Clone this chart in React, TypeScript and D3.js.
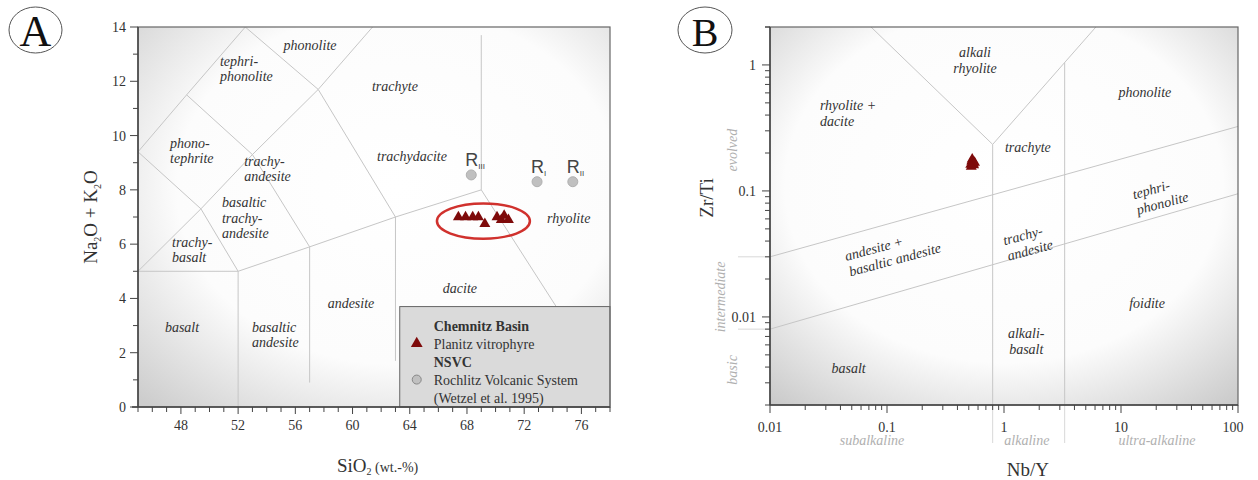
import React from "react";
import * as d3 from "d3";

// ---------- Panel A data (TAS) ----------
const tasBoundaries: [number, number][][] = [
  [[45, 9.4], [48.4, 11.5], [52.5, 14]],
  [[45, 9.4], [49.4, 7.3], [52, 5]],
  [[45, 5], [49.4, 7.3], [53, 9.3], [57.6, 11.7], [61.4, 14]],
  [[48.4, 11.5], [53, 9.3], [57, 5.9]],
  [[52.5, 14], [57.6, 11.7], [63, 7]],
  [[45, 5], [52, 5]],
  [[52, 0], [52, 5], [57, 5.9], [63, 7], [69, 8]],
  [[57, 0.9], [57, 5.9]],
  [[63, 1.7], [63, 7]],
  [[69, 8], [69, 13.7]],
  [[69, 8], [78.5, 0.2]],
];
const planitzSiO2 = [67.4, 67.9, 68.4, 68.8, 69.25, 70.1, 70.4, 70.6, 70.9];
const planitzAlk = [7.0, 7.0, 7.0, 7.0, 6.75, 7.0, 6.9, 7.05, 6.9];
const rochlitzNames = ["III", "I", "II"];
const rochlitzSiO2 = [68.3, 72.9, 75.4];
const rochlitzAlk = [8.55, 8.3, 8.3];
const xTicksA = [48, 52, 56, 60, 64, 68, 72, 76];
const yTicksA = [0, 2, 4, 6, 8, 10, 12, 14];
type Lab = { lines: string[]; x: number; y: number; anchor: string };
const tasLabels: Lab[] = [
  { lines: ["phonolite"], x: 57.03, y: 13.34, anchor: "middle" },
  { lines: ["tephri-", "phonolite"], x: 50.73, y: 12.75, anchor: "start" },
  { lines: ["phono-", "tephrite"], x: 47.24, y: 9.73, anchor: "start" },
  { lines: ["trachy-", "andesite"], x: 52.42, y: 9.08, anchor: "start" },
  { lines: ["basaltic", "trachy-", "andesite"], x: 50.87, y: 7.55, anchor: "start" },
  { lines: ["trachy-", "basalt"], x: 47.38, y: 6.08, anchor: "start" },
  { lines: ["trachyte"], x: 61.36, y: 11.83, anchor: "start" },
  { lines: ["trachydacite"], x: 61.71, y: 9.25, anchor: "start" },
  { lines: ["rhyolite"], x: 73.6, y: 6.96, anchor: "start" },
  { lines: ["dacite"], x: 67.51, y: 4.38, anchor: "middle" },
  { lines: ["andesite"], x: 59.89, y: 3.83, anchor: "middle" },
  { lines: ["basalt"], x: 48.08, y: 2.95, anchor: "middle" },
  { lines: ["basaltic", "andesite"], x: 52.97, y: 2.95, anchor: "start" },
];

// ---------- Panel B data (Nb/Y vs Zr/Ti) ----------
const pearceBoundaries: [number, number][][] = [
  [[0.073, 2], [0.8, 0.234], [6.1, 2]],
  [[0.8, 0.002], [0.8, 0.234]],
  [[3.3, 0.002], [3.3, 1.04]],
  [[0.01, 0.03], [100, 0.325]],
  [[0.01, 0.008], [100, 0.095]],
];
const planitzNbY = [0.53, 0.545, 0.52, 0.55, 0.535, 0.56, 0.525];
const planitzZrTi = [0.172, 0.165, 0.162, 0.16, 0.178, 0.168, 0.156];
const xTicksB = [0.01, 0.1, 1, 10, 100];
const xTickLabelsB = ["0.01", "0.1", "1", "10", "100"];
const yTicksB = [0.01, 0.1, 1];
const yTickLabelsB = ["0.01", "0.1", "1"];
const pearceLabels: Lab[] = [
  { lines: ["alkali", "rhyolite"], x: 0.565, y: 1.27, anchor: "middle" },
  { lines: ["rhyolite +", "dacite"], x: 0.0267, y: 0.48, anchor: "start" },
  { lines: ["phonolite"], x: 16.0, y: 0.61, anchor: "middle" },
  { lines: ["trachyte"], x: 1.6, y: 0.223, anchor: "middle" },
  { lines: ["foidite"], x: 16.7, y: 0.0129, anchor: "middle" },
  { lines: ["alkali-", "basalt"], x: 1.55, y: 0.0075, anchor: "middle" },
  { lines: ["basalt"], x: 0.047, y: 0.0039, anchor: "middle" },
];
const pearceRotLabels = [
  { lines: ["tephri-", "phonolite"], x: 12.9, y: 0.086 },
  { lines: ["trachy-", "andesite"], x: 1.01, y: 0.037 },
  { lines: ["andesite +", "basaltic andesite"], x: 0.0449, y: 0.0278 },
];
const sideLabels = [
  { text: "evolved", y: 0.211, dx: -38 },
  { text: "intermediate", y: 0.0144, dx: -50 },
  { text: "basic", y: 0.0038, dx: -38 },
];
const bottomLabels = [
  { text: "subalkaline", x: 0.0745 },
  { text: "alkaline", x: 1.57 },
  { text: "ultra-alkaline", x: 20.3 },
];

const SERIF = "'Liberation Serif', 'DejaVu Serif', serif";
const SANS = "'Liberation Sans', Arial, sans-serif";
const TXT = "#333";
const LINE = "#c6c6c6";
const RED = "#7e0a0a";

export default function App() {
  // scales
  const xA = d3.scaleLinear().domain([45, 78]).range([138, 610]);
  const yA = d3.scaleLinear().domain([0, 14]).range([407, 27]);
  const xB = d3.scaleLog().domain([0.01, 100]).range([770, 1238]);
  const yB = d3.scaleLog().domain([0.002, 2]).range([405, 27]);

  const lineA = d3.line<[number, number]>().x((d) => xA(d[0])).y((d) => yA(d[1]));
  const lineB = d3.line<[number, number]>().x((d) => xB(d[0])).y((d) => yB(d[1]));
  const tri = d3.symbol().type(d3.symbolTriangle).size(52)();
  const triLeg = d3.symbol().type(d3.symbolTriangle).size(60)();

  const [ax0, ax1] = xA.range();
  const [ay0, ay1] = yA.range();
  const [bx0, bx1] = xB.range();
  const [by0, by1] = yB.range();

  // minor ticks
  const minorA = d3.range(45, 79, 1);
  const minorYA = d3.range(0, 15, 1);
  const minorB: number[] = [];
  for (let e = -2; e < 2; e++) for (let m = 1; m < 10; m++) minorB.push(m * Math.pow(10, e));
  minorB.push(100);
  const minorYB: number[] = [];
  for (let e = -3; e < 1; e++) for (let m = 1; m < 10; m++) {
    const v = m * Math.pow(10, e);
    if (v >= 0.002 && v <= 2) minorYB.push(v);
  }
  minorYB.push(2);

  const legX = xA(63.3);
  const legY = yA(3.7);

  return (
    <svg width={1258} height={480} style={{ position: "absolute", left: 0, top: 0, background: "#fff" }}>
      <defs>
        <radialGradient id="bgA" cx="0.55" cy="0.42" r="0.78">
          <stop offset="0" stopColor="#ffffff" />
          <stop offset="0.6" stopColor="#fcfcfc" />
          <stop offset="1" stopColor="#cdcdcd" />
        </radialGradient>
        <radialGradient id="bgB" cx="0.5" cy="0.42" r="0.78">
          <stop offset="0" stopColor="#ffffff" />
          <stop offset="0.6" stopColor="#fcfcfc" />
          <stop offset="1" stopColor="#c6c6c6" />
        </radialGradient>
        <clipPath id="clipA">
          <rect x={ax0} y={ay1} width={ax1 - ax0} height={ay0 - ay1} />
        </clipPath>
        <clipPath id="clipB">
          <rect x={bx0} y={by1} width={bx1 - bx0} height={by0 - by1} />
        </clipPath>
      </defs>

      {/* ================= PANEL A ================= */}
      <ellipse cx={35.5} cy={30} rx={26.5} ry={23} fill="#fff" stroke="#555" strokeWidth={1} />
      <text x={35.5} y={46} textAnchor="middle" fontFamily={SERIF} fontSize={44} fill="#111">A</text>

      <rect x={ax0} y={ay1} width={ax1 - ax0} height={ay0 - ay1} fill="url(#bgA)" />
      <g clipPath="url(#clipA)">
        {tasBoundaries.map((p, i) => (
          <path key={i} d={lineA(p) || ""} fill="none" stroke={LINE} strokeWidth={1} />
        ))}
      </g>
      {tasLabels.map((l, i) => (
        <text key={i} x={xA(l.x)} y={yA(l.y) + 5} textAnchor={l.anchor} fontFamily={SERIF} fontStyle="italic" fontSize={14} fill={TXT}>
          {l.lines.map((s, j) => (
            <tspan key={j} x={xA(l.x)} dy={j === 0 ? 0 : 15.5}>{s}</tspan>
          ))}
        </text>
      ))}

      {/* Rochlitz */}
      {rochlitzSiO2.map((s, i) => (
        <g key={i}>
          <circle cx={xA(s)} cy={yA(rochlitzAlk[i])} r={5} fill="#c0c0c0" stroke="#b0b0b0" />
          <text x={xA(s) - 6} y={yA(rochlitzAlk[i]) - 9} fontFamily={SANS} fontSize={18} fill="#444">
            R<tspan fontSize={8} dy={3}>{rochlitzNames[i]}</tspan>
          </text>
        </g>
      ))}

      {/* Planitz */}
      {planitzSiO2.map((s, i) => (
        <path key={i} d={tri || ""} transform={`translate(${xA(s)},${yA(planitzAlk[i])})`} fill={RED} />
      ))}
      <ellipse cx={xA(69.15)} cy={yA(6.85)} rx={xA(72.4) - xA(69.15)} ry={yA(6.2) - yA(6.85)} fill="none" stroke="#d0312d" strokeWidth={2.5} />

      {/* Legend */}
      <rect x={legX} y={legY} width={ax1 - legX} height={ay0 - legY} fill="#dadada" stroke="#666" strokeWidth={1} />
      <g fontFamily={SERIF} fontSize={14} fill={TXT}>
        <text x={legX + 34} y={legY + 24} fontWeight="bold">Chemnitz Basin</text>
        <path d={triLeg || ""} transform={`translate(${legX + 17},${legY + 37})`} fill={RED} />
        <text x={legX + 34} y={legY + 42}>Planitz vitrophyre</text>
        <text x={legX + 34} y={legY + 60} fontWeight="bold">NSVC</text>
        <circle cx={legX + 17} cy={legY + 73} r={4.5} fill="#c0c0c0" stroke="#888" />
        <text x={legX + 34} y={legY + 78}>Rochlitz Volcanic System</text>
        <text x={legX + 34} y={legY + 96}>(Wetzel et al. 1995)</text>
      </g>

      {/* frame A */}
      <rect x={ax0} y={ay1} width={ax1 - ax0} height={ay0 - ay1} fill="none" stroke="#666" strokeWidth={1.2} />
      <line x1={ax0} y1={ay1} x2={ax0} y2={ay0} stroke="#444" strokeWidth={1.5} />
      <line x1={ax0 - 6} y1={ay0} x2={ax1} y2={ay0} stroke="#444" strokeWidth={1.5} />

      {/* ticks A */}
      {minorA.map((v) => (
        <line key={v} x1={xA(v)} x2={xA(v)} y1={ay0} y2={ay0 + (v % 4 === 0 ? 7 : 5)} stroke="#444" />
      ))}
      {minorYA.map((v) => (
        <line key={v} y1={yA(v)} y2={yA(v)} x1={ax0} x2={ax0 - (v % 2 === 0 ? 8 : 5)} stroke="#444" />
      ))}
      {xTicksA.map((v) => (
        <text key={v} x={xA(v)} y={ay0 + 23} textAnchor="middle" fontFamily={SERIF} fontSize={14} fill={TXT}>{v}</text>
      ))}
      {yTicksA.map((v) => (
        <text key={v} x={ax0 - 12} y={yA(v) + 5} textAnchor="end" fontFamily={SERIF} fontSize={14} fill={TXT}>{v}</text>
      ))}
      <text transform={`translate(97,${(ay0 + ay1) / 2}) rotate(-90)`} textAnchor="middle" fontFamily={SERIF} fontSize={19} fill={TXT}>
        Na<tspan fontSize={10} dy={4}>2</tspan><tspan dy={-4}>O + K</tspan><tspan fontSize={10} dy={4}>2</tspan><tspan dy={-4}>O</tspan>
      </text>
      <text x={337} y={472} fontFamily={SERIF} fontSize={19} fill={TXT}>
        SiO<tspan fontSize={10} dy={3}>2</tspan><tspan fontSize={14} dy={-3}> (wt.-%)</tspan>
      </text>

      {/* ================= PANEL B ================= */}
      <ellipse cx={705} cy={30} rx={27} ry={23} fill="#fff" stroke="#555" strokeWidth={1} />
      <text x={705} y={45.5} textAnchor="middle" fontFamily={SERIF} fontSize={40} fill="#111">B</text>

      <rect x={bx0} y={by1} width={bx1 - bx0} height={by0 - by1} fill="url(#bgB)" />
      <g clipPath="url(#clipB)">
        {pearceBoundaries.map((p, i) => (
          <path key={i} d={lineB(p) || ""} fill="none" stroke={LINE} strokeWidth={1} />
        ))}
      </g>
      {/* boundary extensions outside axes */}
      {[0.8, 3.3].map((v) => (
        <line key={v} x1={xB(v)} x2={xB(v)} y1={by0} y2={by0 + 38} stroke="#d8d8d8" strokeWidth={1} />
      ))}
      {[0.03, 0.008].map((v) => (
        <line key={v} x1={bx0 - 32} x2={bx0} y1={yB(v)} y2={yB(v)} stroke="#d8d8d8" strokeWidth={1} />
      ))}

      {pearceLabels.map((l, i) => (
        <text key={i} x={xB(l.x)} y={yB(l.y) + 5} textAnchor={l.anchor} fontFamily={SERIF} fontStyle="italic" fontSize={14} fill={TXT}>
          {l.lines.map((s, j) => (
            <tspan key={j} x={xB(l.x)} dy={j === 0 ? 0 : 16}>{s}</tspan>
          ))}
        </text>
      ))}
      {pearceRotLabels.map((l, i) => (
        <text key={i} transform={`translate(${xB(l.x)},${yB(l.y)}) rotate(-15)`} fontFamily={SERIF} fontStyle="italic" fontSize={14} fill={TXT}>
          {l.lines.map((s, j) => (
            <tspan key={j} x={0} dy={j === 0 ? 0 : 16}>{s}</tspan>
          ))}
        </text>
      ))}
      {sideLabels.map((l, i) => (
        <text key={i} transform={`translate(${bx0 + l.dx + 5},${yB(l.y)}) rotate(-90)`} textAnchor="middle" fontFamily={SERIF} fontStyle="italic" fontSize={14} fill="#b0b0b0">{l.text}</text>
      ))}
      {bottomLabels.map((l, i) => (
        <text key={i} x={xB(l.x)} y={by0 + 40} textAnchor="middle" fontFamily={SERIF} fontStyle="italic" fontSize={14} fill="#b0b0b0">{l.text}</text>
      ))}

      {planitzNbY.map((v, i) => (
        <path key={i} d={tri || ""} transform={`translate(${xB(v)},${yB(planitzZrTi[i])})`} fill={RED} />
      ))}

      {/* frame B */}
      <rect x={bx0} y={by1} width={bx1 - bx0} height={by0 - by1} fill="none" stroke="#666" strokeWidth={1.2} />
      <line x1={bx0} y1={by1} x2={bx0} y2={by0} stroke="#444" strokeWidth={1.5} />
      <line x1={bx0} y1={by0} x2={bx1} y2={by0} stroke="#444" strokeWidth={1.5} />
      {minorB.map((v, i) => {
        const major = xTicksB.some((t) => Math.abs(t - v) < 1e-9);
        return <line key={i} x1={xB(v)} x2={xB(v)} y1={by0} y2={by0 + (major ? 8 : 5)} stroke="#444" />;
      })}
      {minorYB.map((v, i) => {
        const major = yTicksB.some((t) => Math.abs(t - v) < 1e-9);
        return <line key={i} y1={yB(v)} y2={yB(v)} x1={bx0} x2={bx0 - (major ? 8 : 5)} stroke="#444" />;
      })}
      {xTicksB.map((v, i) => (
        <text key={i} x={xB(v) - (i === 4 ? 5 : 0)} y={by0 + 27} textAnchor="middle" fontFamily={SERIF} fontSize={14} fill={TXT}>{xTickLabelsB[i]}</text>
      ))}
      {yTicksB.map((v, i) => (
        <text key={i} x={bx0 - 14} y={yB(v) + 5} textAnchor="end" fontFamily={SERIF} fontSize={14} fill={TXT}>{yTickLabelsB[i]}</text>
      ))}
      <text transform={`translate(713,${yB(0.1) + 7}) rotate(-90)`} textAnchor="middle" fontFamily={SERIF} fontSize={19} fill={TXT}>Zr/Ti</text>
      <text x={xB(1.6)} y={476} textAnchor="middle" fontFamily={SERIF} fontSize={19} fill={TXT}>Nb/Y</text>
    </svg>
  );
}
